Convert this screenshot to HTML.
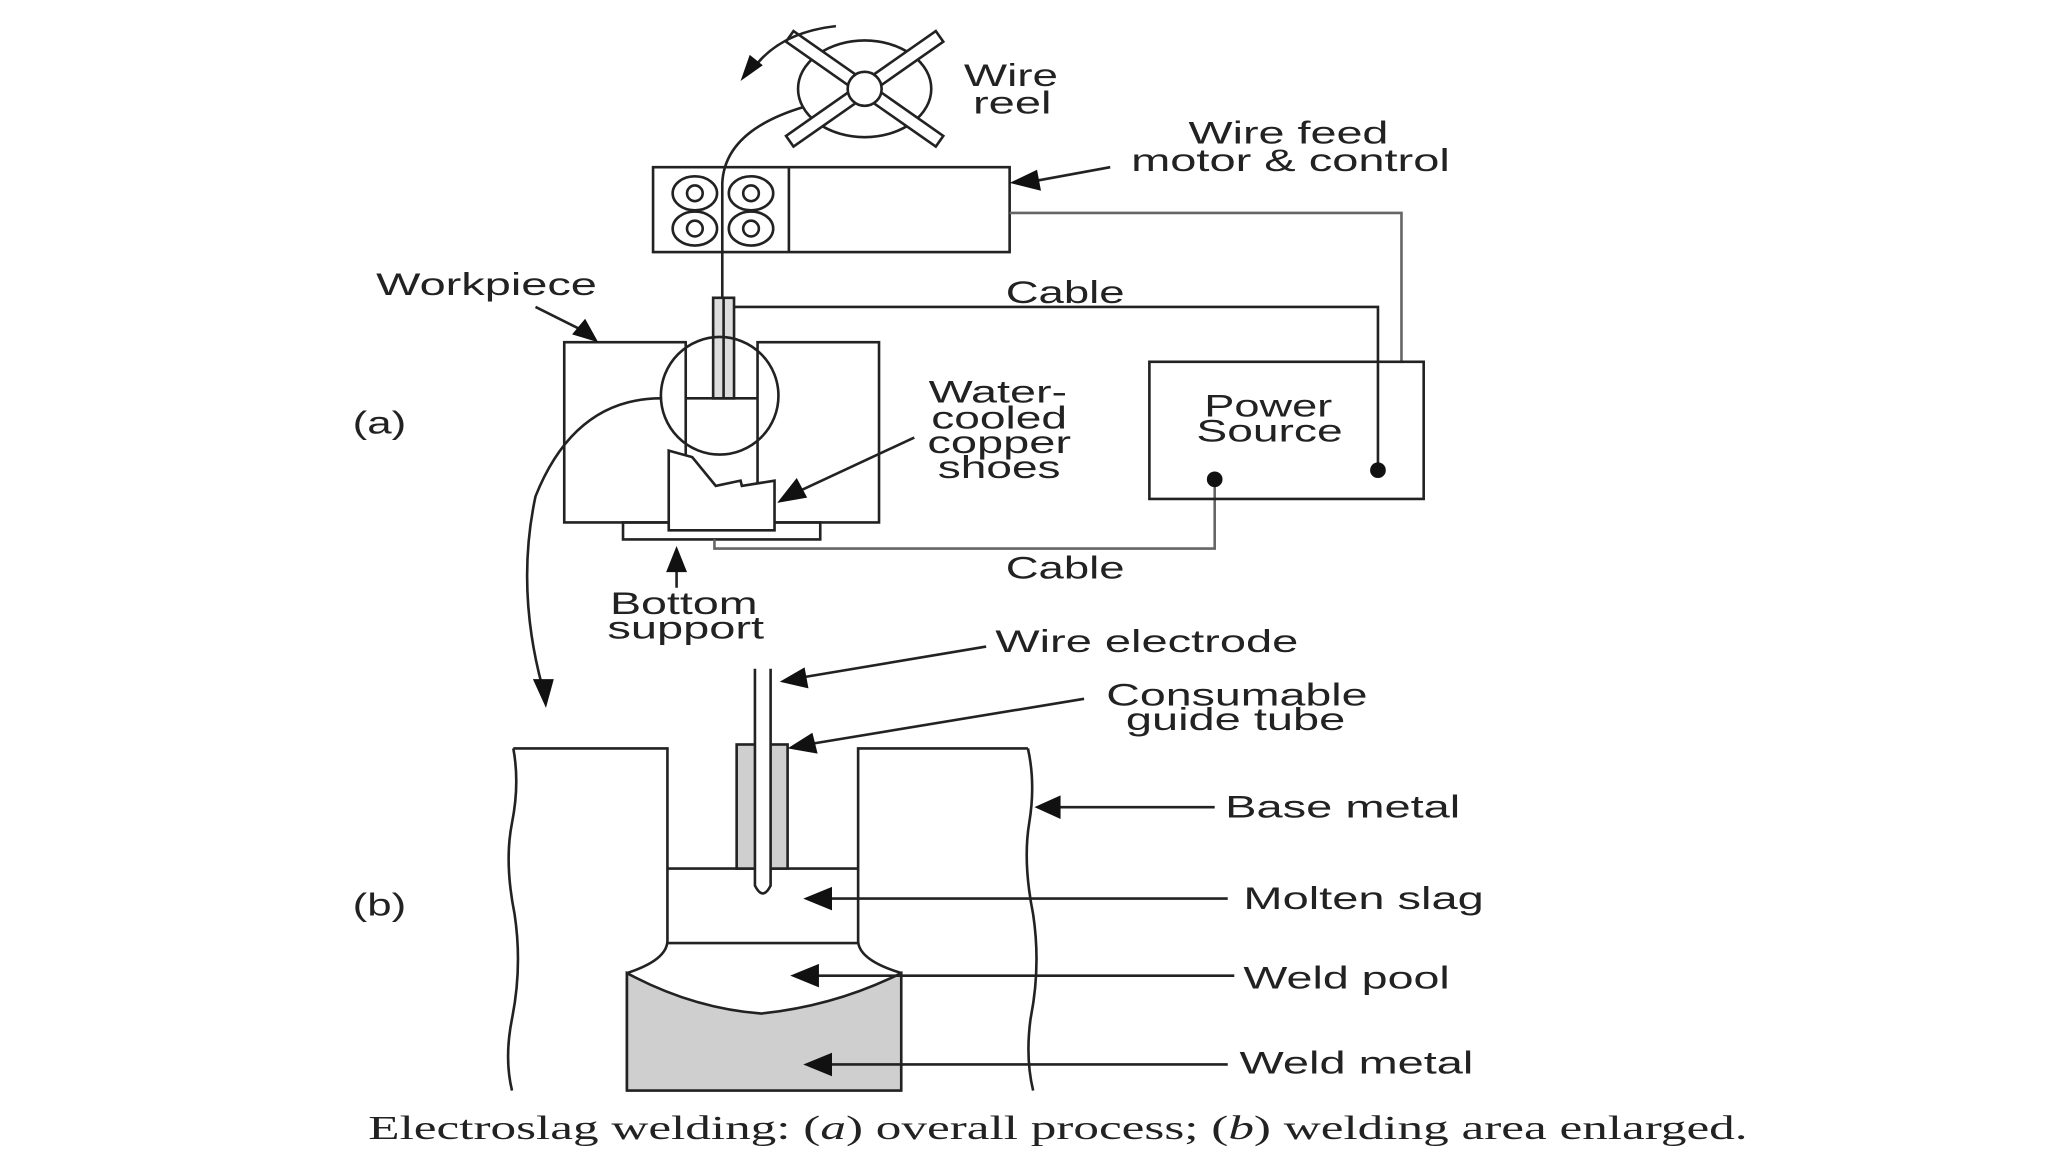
<!DOCTYPE html>
<html><head><style>html,body{margin:0;padding:0;background:#fff}svg{display:block}</style></head><body>
<svg width="2048" height="1152" viewBox="0 0 1568 882" xmlns="http://www.w3.org/2000/svg">
<rect width="1568" height="882" fill="#fff"/>
<g fill="none" stroke="#222" stroke-width="2">
<ellipse cx="662" cy="68" rx="51" ry="37"/>
<g transform="translate(662,68) rotate(35)"><rect x="-70" y="-5" width="140" height="10" fill="#fff"/></g>
<g transform="translate(662,68) rotate(-35)"><rect x="-70" y="-5" width="140" height="10" fill="#fff"/></g>
<circle cx="662" cy="68" r="13" fill="#fff"/>
<path d="M640,20 Q595,25 575,55"/>
<path d="M615,82 Q555,100 553,140 L553,230"/>
<rect x="500" y="128" width="273" height="65"/>
<line x1="604" y1="128" x2="604" y2="193"/>
<ellipse cx="532" cy="148" rx="17" ry="13"/><circle cx="532" cy="148" r="6"/>
<ellipse cx="575" cy="148" rx="17" ry="13"/><circle cx="575" cy="148" r="6"/>
<ellipse cx="532" cy="175" rx="17" ry="13"/><circle cx="532" cy="175" r="6"/>
<ellipse cx="575" cy="175" rx="17" ry="13"/><circle cx="575" cy="175" r="6"/>
<line x1="850" y1="128" x2="790" y2="139"/>
<path d="M773,163 H1073 V278" stroke="#666"/>
<path d="M562,235 H1055 V360"/>
<rect x="546" y="228" width="16" height="77" fill="#ddd"/>
<line x1="554" y1="228" x2="554" y2="305"/>
<rect x="432" y="262" width="93" height="138"/>
<rect x="580" y="262" width="93" height="138"/>
<rect x="477" y="400" width="151" height="13"/>
<line x1="525" y1="305" x2="580" y2="305"/>
<circle cx="551" cy="303" r="45"/>
<path d="M512,345 L530,350 L548,372 L567,368 L568,372 L593,368 L593,406 L512,406 Z" fill="#fff"/>
<path d="M547,413 V420 H930 V367" stroke="#666"/>
<rect x="880" y="277" width="210" height="105"/>
<path d="M506,305 Q440,305 410,380 Q395,450 415,525"/>
<line x1="518" y1="450" x2="518" y2="432"/>
<line x1="410" y1="235" x2="446" y2="253"/>
<line x1="700" y1="335" x2="612" y2="376"/>
<path d="M393,573 H511 V720 Q511,735 480,745 V835" />
<path d="M393,573 Q398,600 392,630 Q386,660 394,700 Q400,740 392,780 Q386,810 392,835"/>
<path d="M787,573 H657 V720 Q657,735 690,745 V835"/>
<path d="M787,573 Q793,600 788,630 Q783,660 791,700 Q797,740 789,780 Q785,810 791,835"/>
<line x1="511" y1="665" x2="657" y2="665"/>
<line x1="511" y1="722" x2="657" y2="722"/>
<path d="M480,745 Q530,772 583,776 Q640,770 690,745 V835 H480 Z" fill="#cfcfcf"/>
<rect x="564" y="570" width="39" height="95" fill="#cfcfcf"/>
<path d="M578,512 V678 Q584,690 590,678 V512" fill="#fff"/>
<line x1="755" y1="495" x2="612" y2="519"/>
<line x1="830" y1="535" x2="618" y2="570"/>
<line x1="930" y1="618" x2="810" y2="618"/>
<line x1="940" y1="688" x2="635" y2="688"/>
<line x1="945" y1="747" x2="625" y2="747"/>
<line x1="940" y1="815" x2="635" y2="815"/>
</g>
<g fill="#111">
<circle cx="1055" cy="360" r="6"/><circle cx="930" cy="367" r="6"/>
<polygon points="567,62 584,50 574,42"/>
<polygon points="773,140 794,130 797,146"/>
<polygon points="518,418 510,438 526,438"/>
<polygon points="458,262 438,256 448,244"/>
<polygon points="595,385 610,366 618,381"/>
<polygon points="418,542 408,520 424,520"/>
<polygon points="597,522 616,511 619,527"/>
<polygon points="603,573 622,561 626,577"/>
<polygon points="792,618 812,609 812,627"/>
<polygon points="615,688 637,679 637,697"/>
<polygon points="605,747 627,738 627,756"/>
<polygon points="615,815 637,806 637,824"/>
</g>
<g font-family="Liberation Sans, sans-serif" font-size="24" fill="#222" lengthAdjust="spacingAndGlyphs">
<text x="738" y="66" textLength="72" lengthAdjust="spacingAndGlyphs">Wire</text>
<text x="745" y="87" textLength="60" lengthAdjust="spacingAndGlyphs">reel</text>
<text x="910" y="110" textLength="153" lengthAdjust="spacingAndGlyphs">Wire feed</text>
<text x="866" y="131" textLength="244" lengthAdjust="spacingAndGlyphs">motor &amp; control</text>
<text x="288" y="226" textLength="169" lengthAdjust="spacingAndGlyphs">Workpiece</text>
<text x="770" y="232" textLength="91" lengthAdjust="spacingAndGlyphs">Cable</text>
<text x="270" y="332" textLength="41" lengthAdjust="spacingAndGlyphs">(a)</text>
<text x="711" y="308" textLength="106" lengthAdjust="spacingAndGlyphs">Water-</text>
<text x="713" y="328" textLength="104" lengthAdjust="spacingAndGlyphs">cooled</text>
<text x="710" y="347" textLength="110" lengthAdjust="spacingAndGlyphs">copper</text>
<text x="718" y="366" textLength="94" lengthAdjust="spacingAndGlyphs">shoes</text>
<text x="922" y="319" textLength="98" lengthAdjust="spacingAndGlyphs">Power</text>
<text x="916" y="338" textLength="112" lengthAdjust="spacingAndGlyphs">Source</text>
<text x="770" y="443" textLength="91" lengthAdjust="spacingAndGlyphs">Cable</text>
<text x="467" y="470" textLength="113" lengthAdjust="spacingAndGlyphs">Bottom</text>
<text x="465" y="489" textLength="120" lengthAdjust="spacingAndGlyphs">support</text>
<text x="762" y="499" textLength="232" lengthAdjust="spacingAndGlyphs">Wire electrode</text>
<text x="847" y="540" textLength="200" lengthAdjust="spacingAndGlyphs">Consumable</text>
<text x="862" y="559" textLength="168" lengthAdjust="spacingAndGlyphs">guide tube</text>
<text x="938" y="626" textLength="180" lengthAdjust="spacingAndGlyphs">Base metal</text>
<text x="270" y="701" textLength="41" lengthAdjust="spacingAndGlyphs">(b)</text>
<text x="952" y="696" textLength="184" lengthAdjust="spacingAndGlyphs">Molten slag</text>
<text x="952" y="757" textLength="158" lengthAdjust="spacingAndGlyphs">Weld pool</text>
<text x="949" y="822" textLength="179" lengthAdjust="spacingAndGlyphs">Weld metal</text>
</g>
<text x="282" y="872" font-family="Liberation Serif, serif" font-size="26" fill="#222" textLength="1056" lengthAdjust="spacingAndGlyphs">Electroslag welding: (<tspan font-style="italic">a</tspan>) overall process; (<tspan font-style="italic">b</tspan>) welding area enlarged.</text>
</svg>
</body></html>
